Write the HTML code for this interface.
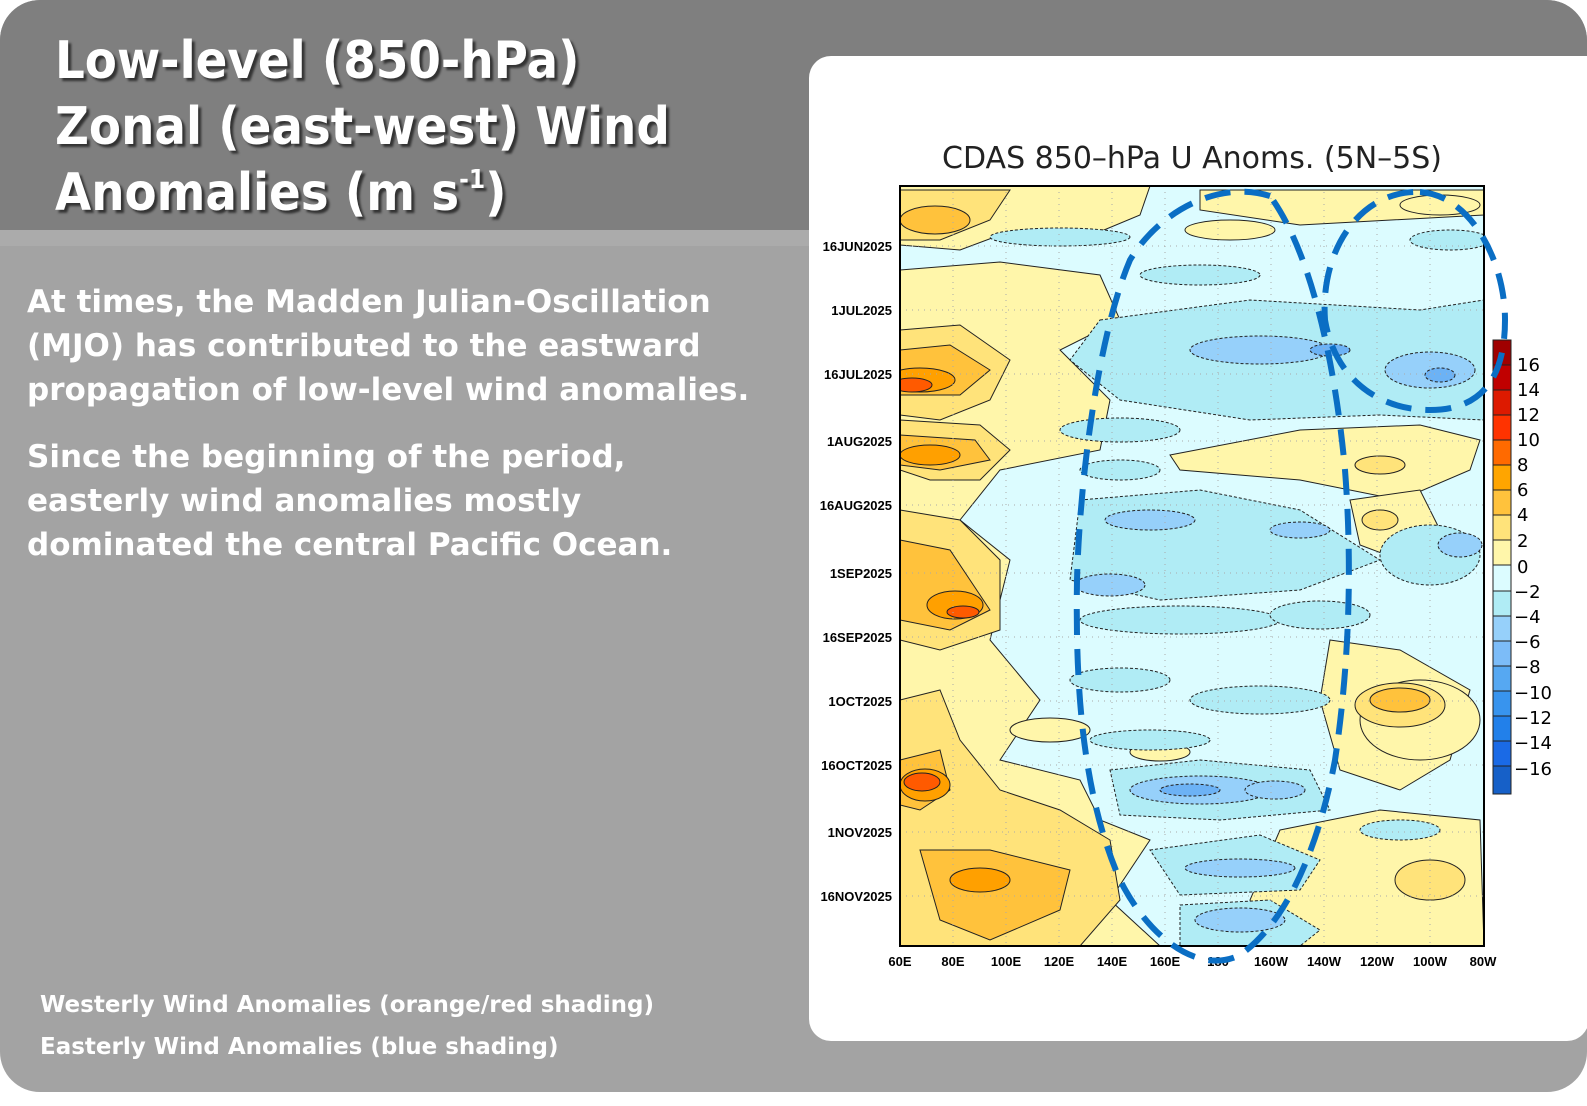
<!DOCTYPE html>
<html><head><meta charset="utf-8"><style>
html,body{margin:0;padding:0;background:#fff;}
body{width:1587px;height:1106px;position:relative;overflow:hidden;font-family:"DejaVu Sans","Liberation Sans",sans-serif;}
.bg{position:absolute;left:0;top:0;width:1587px;height:1092px;background:#a3a3a3;border-radius:40px;overflow:hidden;}
.hdr{position:absolute;left:0;top:0;width:1587px;height:230px;background:#7f7f7f;}
.stripe{position:absolute;left:0;top:230px;width:1587px;height:16px;background:#ababab;}
.title{position:absolute;left:55px;top:28px;color:#fff;font-size:52px;line-height:66px;font-weight:bold;text-shadow:3px 3px 2px #333;font-family:"DejaVu Sans Condensed","DejaVu Sans",sans-serif;font-stretch:condensed;}
.title sup{font-size:26px;line-height:0;vertical-align:22px;}
.body{position:absolute;left:27px;color:#fff;font-size:31px;line-height:44px;font-weight:bold;}
.leg{position:absolute;left:40px;color:#fff;font-size:23px;font-weight:bold;}
.panel{position:absolute;left:809px;top:56px;width:780px;height:985px;background:#fff;border-radius:22px 0 22px 22px;}
</style></head><body>
<div class="bg">
<div class="hdr"></div><div class="stripe"></div>
<div class="title">Low-level (850-hPa)<br>Zonal (east-west) Wind<br>Anomalies (m s<sup>-1</sup>)</div>
<div class="body" style="top:280px">At times, the Madden Julian-Oscillation<br>(MJO) has contributed to the eastward<br>propagation of low-level wind anomalies.</div>
<div class="body" style="top:435px">Since the beginning of the period,<br>easterly wind anomalies mostly<br>dominated the central Pacific Ocean.</div>
<div class="leg" style="top:992px">Westerly Wind Anomalies (orange/red shading)</div>
<div class="leg" style="top:1034px">Easterly Wind Anomalies (blue shading)</div>
<div class="panel"></div>
</div>
<svg width="1587" height="1106" style="position:absolute;left:0;top:0" font-family="Liberation Sans, sans-serif">
<defs><clipPath id="c"><rect x="900" y="186" width="584" height="760"/></clipPath></defs>
<text x="1192" y="168" text-anchor="middle" font-size="30" fill="#222" font-family="DejaVu Sans, sans-serif">CDAS 850–hPa U Anoms. (5N–5S)</text>
<g clip-path="url(#c)" stroke="#222" stroke-width="1">
<rect x="900" y="186" width="584" height="760" fill="#dcfcff" stroke="none"/>
<g fill="#fff6aa">
<path d="M900 186 H1150 L1140 215 L1080 240 L1000 235 L960 250 L900 245 Z"/>
<path d="M900 270 L1000 262 L1100 275 L1120 320 L1060 350 L1110 400 L1100 450 L1000 470 L960 520 L1010 560 L990 640 L1040 700 L1000 760 L1080 780 L1100 820 L1150 840 L1110 900 L1160 946 H900 Z"/>
<path d="M1200 190 H1484 V215 L1300 225 L1200 210 Z"/>
<path d="M1170 455 L1300 430 L1420 425 L1480 440 L1470 470 L1400 500 L1300 480 L1180 470 Z"/>
<path d="M1350 500 L1420 490 L1440 530 L1400 560 L1360 545 Z"/>
<path d="M1330 640 L1400 650 L1470 690 L1450 760 L1400 790 L1340 770 L1320 700 Z"/>
<path d="M1280 830 L1380 810 L1480 820 L1484 946 H1260 L1250 900 Z"/>
<ellipse cx="1050" cy="730" rx="40" ry="12"/><ellipse cx="1110" cy="555" rx="35" ry="12"/><ellipse cx="1160" cy="752" rx="30" ry="9"/>
<ellipse cx="1230" cy="230" rx="45" ry="10"/><ellipse cx="1440" cy="205" rx="40" ry="10"/><ellipse cx="1420" cy="720" rx="60" ry="40"/>
</g>
<g fill="#ffe37a">
<path d="M900 190 H1010 L990 220 L940 240 L900 240 Z"/>
<path d="M900 330 L960 325 L1010 360 L990 400 L940 420 L900 415 Z"/>
<path d="M900 420 L980 425 L1010 450 L980 480 L930 480 L900 470 Z"/>
<path d="M900 510 L960 520 L1000 560 L1000 630 L940 650 L900 640 Z"/>
<path d="M900 700 L940 690 L960 740 L1000 790 L1060 810 L1110 840 L1120 900 L1080 946 H900 Z"/>
<ellipse cx="1400" cy="705" rx="45" ry="22"/><ellipse cx="1380" cy="465" rx="25" ry="9"/><ellipse cx="1380" cy="520" rx="18" ry="10"/>
<ellipse cx="1430" cy="880" rx="35" ry="20"/>
</g>
<g fill="#ffc23c">
<ellipse cx="935" cy="220" rx="35" ry="14"/>
<path d="M900 350 L950 345 L990 370 L960 395 L900 395 Z"/>
<path d="M900 435 L975 440 L990 460 L940 470 L900 465 Z"/>
<path d="M900 540 L950 550 L990 610 L950 630 L900 620 Z"/>
<path d="M900 760 L940 750 L950 790 L920 810 L900 805 Z"/>
<path d="M920 850 L990 850 L1070 870 L1060 910 L990 940 L940 920 Z"/>
<ellipse cx="1400" cy="700" rx="30" ry="12"/>
</g>
<g fill="#ffa000">
<ellipse cx="920" cy="380" rx="35" ry="12"/><ellipse cx="930" cy="455" rx="30" ry="10"/><ellipse cx="955" cy="605" rx="28" ry="14"/><ellipse cx="925" cy="785" rx="25" ry="16"/><ellipse cx="980" cy="880" rx="30" ry="12"/>
</g>
<g fill="#ff5a00"><ellipse cx="912" cy="385" rx="20" ry="7"/><ellipse cx="922" cy="782" rx="18" ry="9"/><ellipse cx="963" cy="612" rx="16" ry="6"/></g>
<g fill="#b0ecf5" stroke-dasharray="3,2">
<ellipse cx="1060" cy="237" rx="70" ry="9"/><ellipse cx="1200" cy="275" rx="60" ry="10"/>
<path d="M1100 320 L1250 300 L1420 310 L1484 300 V420 L1380 415 L1250 420 L1120 400 L1070 360 Z"/>
<ellipse cx="1120" cy="430" rx="60" ry="12"/><ellipse cx="1120" cy="470" rx="40" ry="10"/>
<path d="M1080 500 L1200 490 L1300 510 L1380 560 L1300 590 L1160 600 L1070 580 Z"/>
<ellipse cx="1430" cy="555" rx="50" ry="30"/>
<ellipse cx="1180" cy="620" rx="100" ry="14"/><ellipse cx="1320" cy="615" rx="50" ry="14"/>
<ellipse cx="1120" cy="680" rx="50" ry="12"/><ellipse cx="1260" cy="700" rx="70" ry="14"/>
<ellipse cx="1150" cy="740" rx="60" ry="10"/>
<path d="M1110 770 L1200 760 L1310 770 L1330 810 L1220 820 L1120 815 Z"/>
<path d="M1150 850 L1260 835 L1320 860 L1300 890 L1180 895 Z"/>
<path d="M1180 905 L1270 900 L1320 930 L1300 946 H1180 Z"/>
<ellipse cx="1450" cy="240" rx="40" ry="10"/><ellipse cx="1400" cy="830" rx="40" ry="10"/>
</g>
<g fill="#96d0fa" stroke-dasharray="3,2">
<ellipse cx="1260" cy="350" rx="70" ry="14"/><ellipse cx="1430" cy="370" rx="45" ry="18"/>
<ellipse cx="1150" cy="520" rx="45" ry="10"/><ellipse cx="1110" cy="585" rx="35" ry="11"/>
<ellipse cx="1300" cy="530" rx="30" ry="8"/><ellipse cx="1460" cy="545" rx="22" ry="12"/>
<ellipse cx="1200" cy="790" rx="70" ry="14"/><ellipse cx="1240" cy="868" rx="55" ry="9"/><ellipse cx="1240" cy="920" rx="45" ry="12"/>
<ellipse cx="1275" cy="790" rx="30" ry="9"/>
</g>
<g fill="#6cb2f5" stroke-dasharray="3,2"><ellipse cx="1190" cy="790" rx="30" ry="6"/><ellipse cx="1440" cy="375" rx="15" ry="7"/><ellipse cx="1330" cy="350" rx="20" ry="6"/></g>
<g stroke="#aaa" stroke-dasharray="1,5">
<line x1="953" y1="186" x2="953" y2="946"/><line x1="1006" y1="186" x2="1006" y2="946"/><line x1="1059" y1="186" x2="1059" y2="946"/><line x1="1112" y1="186" x2="1112" y2="946"/><line x1="1165" y1="186" x2="1165" y2="946"/><line x1="1218" y1="186" x2="1218" y2="946"/><line x1="1271" y1="186" x2="1271" y2="946"/><line x1="1324" y1="186" x2="1324" y2="946"/><line x1="1377" y1="186" x2="1377" y2="946"/><line x1="1430" y1="186" x2="1430" y2="946"/>
<line x1="900" y1="246" x2="1484" y2="246"/><line x1="900" y1="310" x2="1484" y2="310"/><line x1="900" y1="374" x2="1484" y2="374"/><line x1="900" y1="441" x2="1484" y2="441"/><line x1="900" y1="505" x2="1484" y2="505"/><line x1="900" y1="573" x2="1484" y2="573"/><line x1="900" y1="637" x2="1484" y2="637"/><line x1="900" y1="701" x2="1484" y2="701"/><line x1="900" y1="765" x2="1484" y2="765"/><line x1="900" y1="832" x2="1484" y2="832"/><line x1="900" y1="896" x2="1484" y2="896"/>
</g>
</g>
<rect x="900" y="186" width="584" height="760" fill="none" stroke="#000" stroke-width="2"/>
<g font-size="13" font-weight="bold" text-anchor="end" fill="#000" font-family="Liberation Sans Narrow, Liberation Sans, sans-serif">
<text x="892" y="251">16JUN2025</text><text x="892" y="315">1JUL2025</text><text x="892" y="379">16JUL2025</text><text x="892" y="446">1AUG2025</text><text x="892" y="510">16AUG2025</text><text x="892" y="578">1SEP2025</text><text x="892" y="642">16SEP2025</text><text x="892" y="706">1OCT2025</text><text x="892" y="770">16OCT2025</text><text x="892" y="837">1NOV2025</text><text x="892" y="901">16NOV2025</text>
</g>
<g font-size="13" font-weight="bold" text-anchor="middle" fill="#000" font-family="Liberation Sans Narrow, Liberation Sans, sans-serif">
<text x="900" y="966">60E</text><text x="953" y="966">80E</text><text x="1006" y="966">100E</text><text x="1059" y="966">120E</text><text x="1112" y="966">140E</text><text x="1165" y="966">160E</text><text x="1218" y="966">180</text><text x="1271" y="966">160W</text><text x="1324" y="966">140W</text><text x="1377" y="966">120W</text><text x="1430" y="966">100W</text><text x="1483" y="966">80W</text>
</g>
<g stroke="#222" stroke-width="1">
<rect x="1493" y="340" width="18" height="25" fill="#a00000"/><rect x="1493" y="365" width="18" height="25" fill="#c00000"/><rect x="1493" y="390" width="18" height="25" fill="#dd1a00"/><rect x="1493" y="415" width="18" height="25" fill="#ff3300"/><rect x="1493" y="440" width="18" height="25" fill="#ff6a00"/><rect x="1493" y="465" width="18" height="25" fill="#ffa500"/><rect x="1493" y="490" width="18" height="25" fill="#ffc23c"/><rect x="1493" y="515" width="18" height="25" fill="#ffe37a"/><rect x="1493" y="540" width="18" height="25" fill="#fff6aa"/><rect x="1493" y="565" width="18" height="26" fill="#dcfcff"/><rect x="1493" y="591" width="18" height="25" fill="#b0ecf5"/><rect x="1493" y="616" width="18" height="25" fill="#96d0fa"/><rect x="1493" y="641" width="18" height="25" fill="#7cbcf8"/><rect x="1493" y="666" width="18" height="25" fill="#56a8f2"/><rect x="1493" y="691" width="18" height="25" fill="#3894ee"/><rect x="1493" y="716" width="18" height="25" fill="#2280ea"/><rect x="1493" y="741" width="18" height="25" fill="#1a6ae6"/><rect x="1493" y="766" width="18" height="28" fill="#1660c8"/>
</g>
<g font-size="18" fill="#000" font-family="DejaVu Sans, sans-serif">
<text x="1517" y="371">16</text><text x="1517" y="396">14</text><text x="1517" y="421">12</text><text x="1517" y="446">10</text><text x="1517" y="471">8</text><text x="1517" y="496">6</text><text x="1517" y="521">4</text><text x="1517" y="547">2</text><text x="1517" y="573">0</text><text x="1514" y="598">−2</text><text x="1514" y="623">−4</text><text x="1514" y="648">−6</text><text x="1514" y="673">−8</text><text x="1514" y="699">−10</text><text x="1514" y="724">−12</text><text x="1514" y="749">−14</text><text x="1514" y="775">−16</text>
</g>
<g fill="none" stroke="#0a6ec4" stroke-width="6" stroke-dasharray="26,14">
<path d="M1270 196 C1220 180 1160 210 1130 260 C1100 330 1080 470 1077 580 C1075 700 1085 800 1120 880 C1150 940 1200 975 1240 955 C1290 920 1320 840 1335 760 C1350 660 1352 560 1345 470 C1335 360 1310 250 1270 196 Z"/>
<path d="M1420 192 C1470 195 1505 260 1505 320 C1505 380 1480 410 1430 410 C1380 410 1335 380 1325 320 C1320 250 1360 190 1420 192 Z"/>
</g>
</svg>
</body></html>
